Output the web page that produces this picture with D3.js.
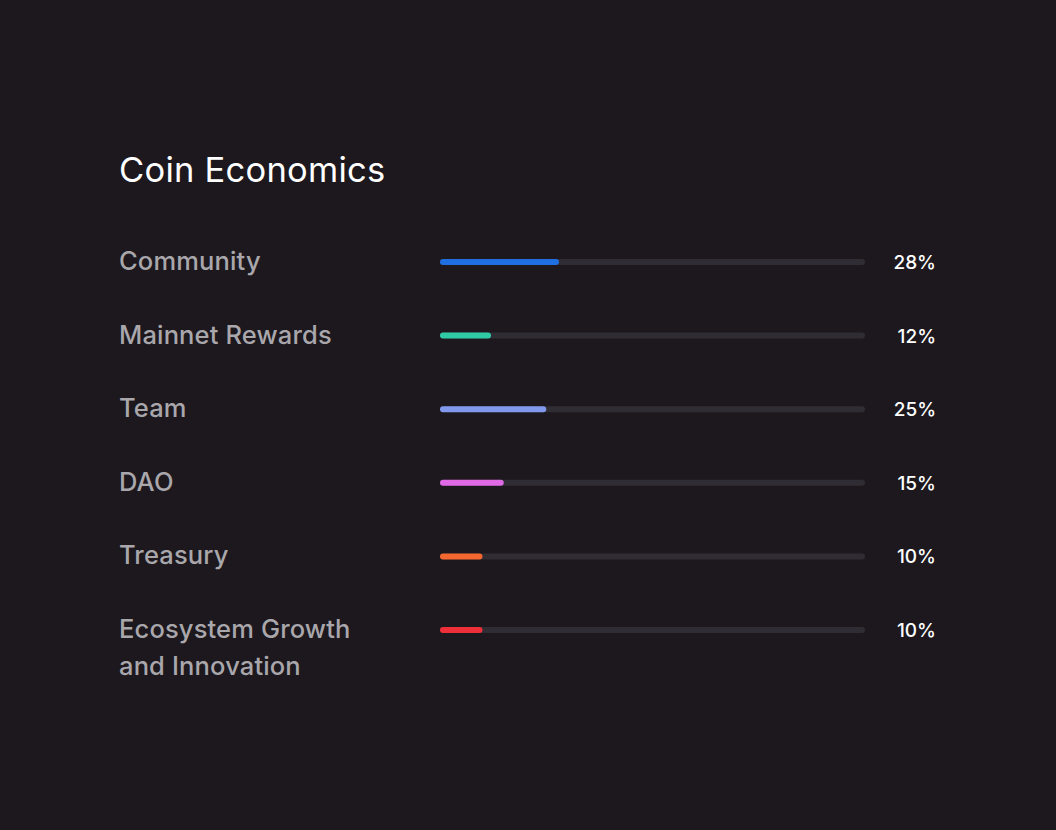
<!DOCTYPE html>
<html><head><meta charset="utf-8">
<script src="https://cdn.jsdelivr.net/npm/d3@7"></script>
<style>
html,body{margin:0;padding:0;background:#1c181e;}
svg{display:block;}
</style></head>
<body>
<svg id="chart" width="1056" height="830"></svg>
<script>
const title = "Coin Economics";
const categories = [["Community"],["Mainnet Rewards"],["Team"],["DAO"],["Treasury"],["Ecosystem Growth","and Innovation"]];
const values = [28, 12, 25, 15, 10, 10];
const colors = ["#1f6fe3","#2fcaa6","#8199ec","#e06ae6","#f4672f","#ee2f3a"];
const labels = values.map(v => v + "%");

const W = 1056, H = 830;
const svg = d3.select("#chart");
svg.append("rect").attr("width",W).attr("height",H).attr("fill","#1c181e");

const font = "Inter, 'Noto Sans', sans-serif";
svg.append("text").attr("x",119).attr("y",182).text(title)
  .attr("fill","#ffffff").attr("font-family",font).attr("font-size",34.5).attr("font-weight",400)
  .attr("letter-spacing","0.25");

const y = d3.scalePoint().domain(d3.range(values.length)).range([262,630]);
const x = d3.scaleLinear().domain([0,100]).range([440,865]);
const th = 6;

const rows = svg.append("g").selectAll("g").data(values).join("g");

rows.append("rect")
  .attr("x",x(0)).attr("y",(d,i)=>y(i)-th/2).attr("width",x(100)-x(0)).attr("height",th)
  .attr("rx",th/2).attr("fill","#302c33");
rows.append("rect")
  .attr("x",x(0)).attr("y",(d,i)=>y(i)-th/2).attr("width",d=>x(d)-x(0)).attr("height",th)
  .attr("rx",th/2).attr("fill",(d,i)=>colors[i]);

rows.append("text")
  .attr("x",936).attr("y",(d,i)=>y(i)+7)
  .attr("text-anchor","end").attr("fill","#ffffff").attr("font-family",font).attr("font-size",19)
  .attr("font-weight",500)
  .text((d,i)=>labels[i]);

const lab = rows.append("text")
  .attr("x",119).attr("y",(d,i)=>y(i)+8)
  .attr("fill","#a9a7ab").attr("font-family",font).attr("font-size",25.5).attr("font-weight",500)
  .attr("letter-spacing","0.15");
lab.selectAll("tspan").data((d,i)=>categories[i]).join("tspan")
  .attr("x",119).attr("dy",(d,j)=> j===0?0:37).text(d=>d);
</script>
</body></html>
